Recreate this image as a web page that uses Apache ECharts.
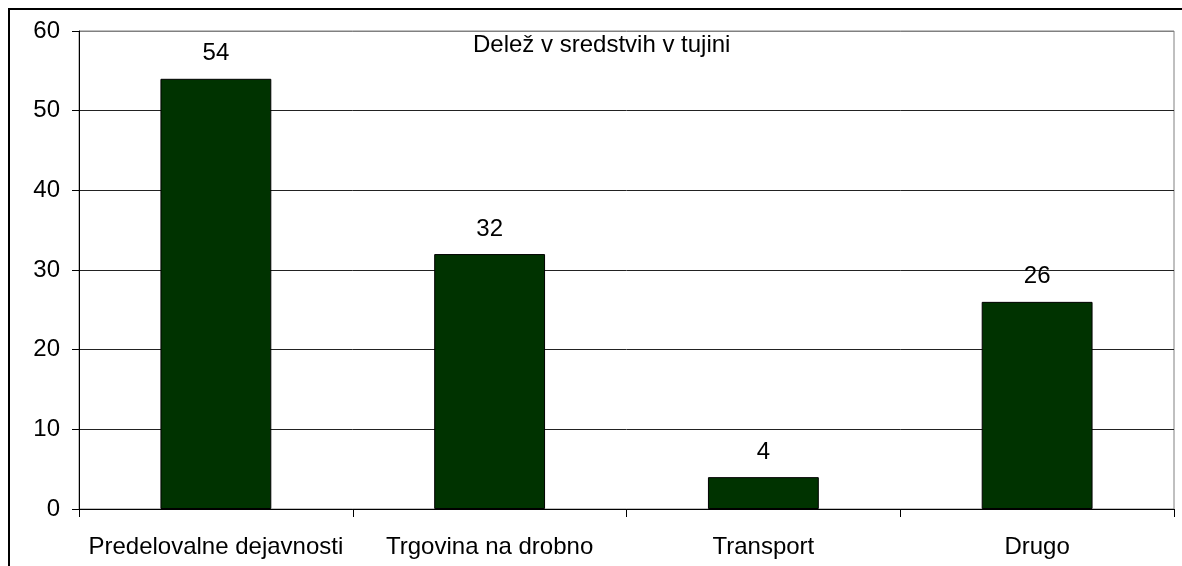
<!DOCTYPE html>
<html>
<head>
<meta charset="utf-8">
<script src="https://cdn.jsdelivr.net/npm/echarts@6/dist/echarts.min.js"></script>
<style>
  body { margin: 0; background: #fff; }
  #chart { width: 1182px; height: 566px; }
</style>
</head>
<body>
<div id="chart"></div>
<script>
  // kategorije in vrednosti
  const categories = ['Predelovalne dejavnosti', 'Trgovina na drobno', 'Transport', 'Drugo'];
  const values = [54, 32, 4, 26];
  const titleText = 'Delež v sredstvih v tujini';

  const font = 'Liberation Sans, Arial, sans-serif';
  let chart = echarts.init(document.getElementById('chart'));

  chart.setOption({
    animation: false,
    title: {
      text: titleText,
      left: 468,
      top: 28,
      textStyle: { fontFamily: font, fontSize: 24, fontWeight: 'normal', color: '#000' }
    },
    graphic: [{
      type: 'rect',
      shape: { x: 9, y: 9, width: 1200, height: 600 },
      style: { fill: 'none', stroke: '#000', lineWidth: 2 },
      silent: true
    }],
    grid: {
      left: 79, right: 8, top: 31, bottom: 57,
      show: true, borderColor: '#808080', borderWidth: 1
    },
    xAxis: {
      type: 'category',
      data: categories,
      axisLine: { lineStyle: { color: '#000', width: 1 } },
      axisTick: { show: true, interval: 0, length: 8, lineStyle: { color: '#000' } },
      axisLabel: { interval: 0, fontFamily: font, fontSize: 24, color: '#000', margin: 26 }
    },
    yAxis: {
      type: 'value',
      min: 0, max: 60, interval: 10,
      axisLine: { show: true, lineStyle: { color: '#000', width: 1 } },
      axisTick: { show: true, length: 7, lineStyle: { color: '#000' } },
      axisLabel: { fontFamily: font, fontSize: 24, color: '#000', margin: 19 },
      splitLine: {
        lineStyle: { color: ['#000', '#222', '#222', '#222', '#222', '#222', '#808080'], width: 1 }
      }
    },
    series: [{
      type: 'bar',
      data: values,
      barWidth: '40.5%',
      itemStyle: { color: '#003300', borderColor: '#000', borderWidth: 1 },
      label: {
        show: true, position: 'top', distance: 13,
        fontFamily: font, fontSize: 24, color: '#000'
      }
    }]
  });
</script>
</body>
</html>
